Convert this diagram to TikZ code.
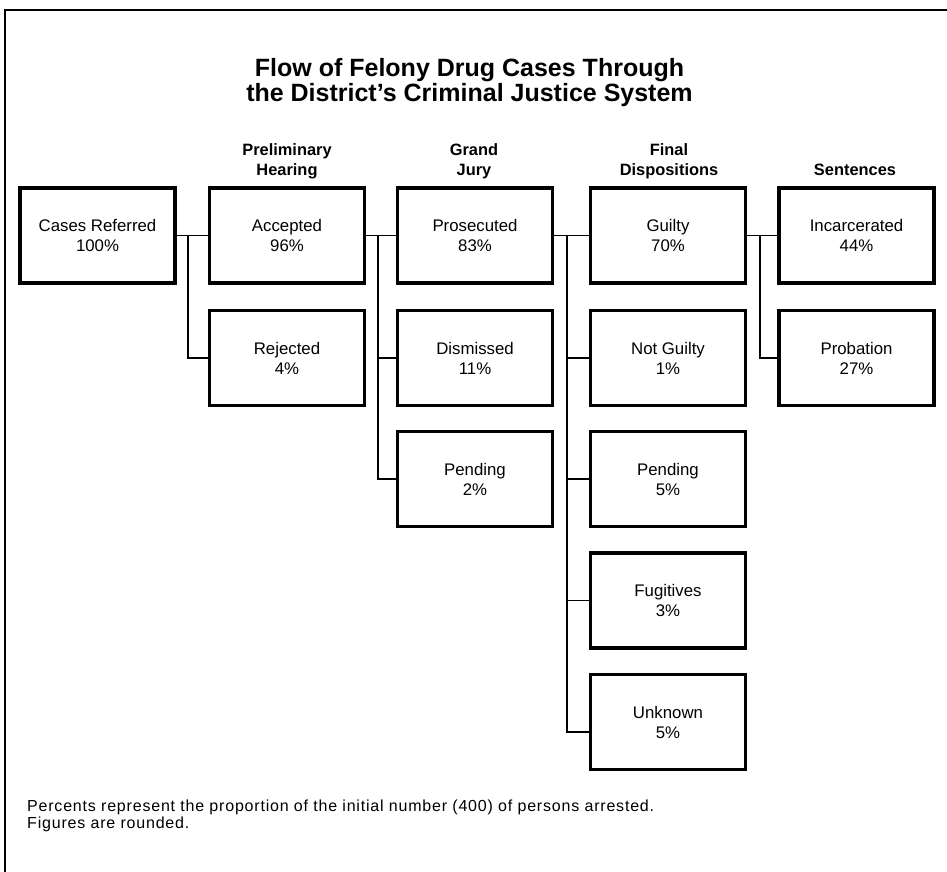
\documentclass[tikz,border=0pt]{standalone}
\usepackage{fontspec}
\setmainfont{Liberation Sans}
\newfontfamily\notefont[LetterSpace=5]{Liberation Sans}
\begin{document}
\begin{tikzpicture}[x=1pt,y=-1pt,
  box/.style={draw=black,line width=3.2pt,minimum width=155pt,minimum height=95pt,inner sep=0pt,align=center,font=\fontsize{16.8}{20}\selectfont},
  conn/.style={draw=black,line width=1.4pt},
  frame/.style={draw=black,line width=1.6pt},
  ttl/.style={anchor=base,inner sep=0pt,font=\fontsize{25}{26}\selectfont\bfseries},
  hdr/.style={anchor=base,inner sep=0pt,font=\fontsize{16.4}{18}\selectfont\bfseries},
  note/.style={anchor=base west,inner sep=0pt,font=\notefont\fontsize{16}{17}\selectfont}]
\useasboundingbox (0,0) rectangle (947,872);
% frame (left and top only visible)
\draw[frame] (5,872) -- (5,10) -- (947,10);
% title
\node[ttl] (tl1) at (469.5,77) {Flow of Felony Drug Cases Through};
\node[ttl] (tl2) at (469.5,102) {the District's Criminal Justice System};
% headers
\node[hdr] (h2a) at (287,155) {Preliminary};
\node[hdr] (h2b) at (287,175) {Hearing};
\node[hdr] (h3a) at (474,155) {Grand};
\node[hdr] (h3b) at (474,175) {Jury};
\node[hdr] (h4a) at (669,155) {Final};
\node[hdr] (h4b) at (669,175) {Dispositions};
\node[hdr] (h5b) at (855,175) {Sentences};
% boxes
\node[box] (ref) at (97.5,235.5) {Cases Referred\\100\%};
\node[box] (acc) at (287,235.5) {Accepted\\96\%};
\node[box] (rej) at (287,358) {Rejected\\4\%};
\node[box] (pro) at (475,235.5) {Prosecuted\\83\%};
\node[box] (dis) at (475,358) {Dismissed\\11\%};
\node[box] (pen1) at (475,479) {Pending\\2\%};
\node[box] (gui) at (668,235.5) {Guilty\\70\%};
\node[box] (ngu) at (668,358) {Not Guilty\\1\%};
\node[box] (pen2) at (668,479) {Pending\\5\%};
\node[box] (fug) at (668,600.5) {Fugitives\\3\%};
\node[box] (unk) at (668,722) {Unknown\\5\%};
\node[box] (inc) at (856.5,235.5) {Incarcerated\\44\%};
\node[box] (prb) at (856.5,358) {Probation\\27\%};
% junctions
\coordinate (j1) at (188,235.5);
\coordinate (j2) at (378,235.5);
\coordinate (j3) at (567,235.5);
\coordinate (j4) at (760,235.5);
% connectors
\draw[conn] (ref.east) -- (acc.west);
\draw[conn] (j1) |- (rej.west);
\draw[conn] (acc.east) -- (pro.west);
\draw[conn] (j2) |- (dis.west);
\draw[conn] (j2) |- (pen1.west);
\draw[conn] (pro.east) -- (gui.west);
\draw[conn] (j3) |- (ngu.west);
\draw[conn] (j3) |- (pen2.west);
\draw[conn] (j3) |- (fug.west);
\draw[conn] (j3) |- ([yshift=-10pt]unk.west);
\draw[conn] (gui.east) -- (inc.west);
\draw[conn] (j4) |- (prb.west);
% footnote
\node[note] (n1) at (27,811) {Percents represent the proportion of the initial number (400) of persons arrested.};
\node[note] (n2) at (27,828) {Figures are rounded.};
\end{tikzpicture}
\end{document}
